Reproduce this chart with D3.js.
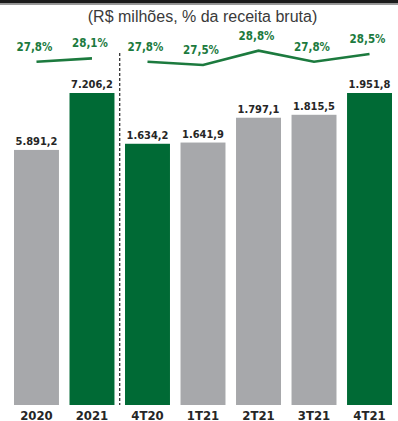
<!DOCTYPE html>
<html>
<head>
<meta charset="utf-8">
<script src="https://cdn.jsdelivr.net/npm/d3@7"></script>
<style>
  html, body { margin: 0; padding: 0; background: #fff; }
  svg { display: block; }
  .num { font-family: "DejaVu Sans Condensed", "DejaVu Sans", sans-serif; font-stretch: condensed; font-weight: bold; }
</style>
</head>
<body>
<svg id="chart" width="398" height="421"></svg>
<script>
// Annual figures (R$ milhões)
const yearCats = ["2020", "2021"];
const yearValues = [5891.2, 7206.2];
const yearPct = [27.8, 28.1];

// Quarterly figures (R$ milhões)
const quarterCats = ["4T20", "1T21", "2T21", "3T21", "4T21"];
const quarterValues = [1634.2, 1641.9, 1797.1, 1815.5, 1951.8];
const quarterPct = [27.8, 27.5, 28.8, 27.8, 28.5];

// Highlighted periods use the green fill
const highlighted = ["2021", "4T20", "4T21"];

const title = "(R$ milhões, % da receita bruta)";

const W = 398, H = 421;
const GREEN = "#006a35", GREY = "#a7a8ab", LINE = "#1c7a3e", TEXT = "#262626";

const fmt = v => v.toLocaleString("pt-BR", { minimumFractionDigits: 1, maximumFractionDigits: 1 });
const fmtPct = v => v.toLocaleString("pt-BR", { minimumFractionDigits: 1, maximumFractionDigits: 1 }) + "%";

const svg = d3.select("#chart");

// top band
svg.append("rect").attr("x", 0).attr("y", 0).attr("width", W).attr("height", 3.5).attr("fill", "#1b1b1b");
svg.append("rect").attr("x", 0).attr("y", 3.5).attr("width", W).attr("height", 1.5).attr("fill", "#9a9a9a");

svg.append("text")
  .attr("x", 202.5).attr("y", 21.5)
  .attr("text-anchor", "middle")
  .attr("font-family", "'Liberation Sans', Arial, sans-serif")
  .attr("font-size", 16)
  .attr("fill", "#3a3a3a")
  .text(title);

const allCats = yearCats.concat(quarterCats);
const x = d3.scaleBand().domain(allCats).range([14, 392]).paddingInner(0.19).paddingOuter(0);

const baseY = 405, topY = 93;
const yYear = d3.scaleLinear().domain([0, d3.max(yearValues)]).range([baseY, topY]);
const yQuarter = d3.scaleLinear().domain([0, d3.max(quarterValues)]).range([baseY, topY]);
const yPct = d3.scaleLinear().domain([27, 29]).range([70.5, 48.5]);

const groups = [
  { cats: yearCats, values: yearValues, pct: yearPct, y: yYear },
  { cats: quarterCats, values: quarterValues, pct: quarterPct, y: yQuarter }
];

groups.forEach(g => {
  const data = g.cats.map((c, i) => ({ cat: c, value: g.values[i], pct: g.pct[i] }));

  svg.append("g").selectAll("rect").data(data).join("rect")
    .attr("x", d => x(d.cat))
    .attr("y", d => g.y(d.value))
    .attr("width", x.bandwidth())
    .attr("height", d => baseY - g.y(d.value))
    .attr("fill", d => highlighted.includes(d.cat) ? GREEN : GREY);

  svg.append("g").selectAll("text").data(data).join("text")
    .attr("class", "num")
    .attr("x", d => x(d.cat) + x.bandwidth() / 2)
    .attr("y", d => g.y(d.value) - 5)
    .attr("text-anchor", "middle")
    .attr("font-size", 11)
    .attr("fill", TEXT)
    .text(d => fmt(d.value));

  const line = d3.line()
    .x(d => x(d.cat) + x.bandwidth() / 2)
    .y(d => yPct(d.pct));
  svg.append("path").datum(data)
    .attr("d", line)
    .attr("fill", "none")
    .attr("stroke", LINE)
    .attr("stroke-width", 2.6)
    .attr("stroke-linejoin", "miter");

  svg.append("g").selectAll("text").data(data).join("text")
    .attr("class", "num")
    .attr("x", d => x(d.cat) + x.bandwidth() / 2 - 2)
    .attr("y", d => yPct(d.pct) - 11)
    .attr("text-anchor", "middle")
    .attr("font-size", 11.5)
    .attr("fill", LINE)
    .text(d => fmtPct(d.pct));
});

// separator between annual and quarterly panels
const sepX = (x("2021") + x.bandwidth() + x("4T20")) / 2;
svg.append("line")
  .attr("x1", sepX).attr("x2", sepX)
  .attr("y1", 53).attr("y2", baseY)
  .attr("stroke", "#111").attr("stroke-width", 1.1)
  .attr("stroke-dasharray", "3,2");

// category axis
const axis = svg.append("g")
  .attr("transform", `translate(0,${baseY})`)
  .call(d3.axisBottom(x).tickSize(0).tickPadding(14.5));
axis.select(".domain").remove();
axis.selectAll("text")
  .attr("class", "num")
  .attr("dy", null)
  .attr("font-size", 13)
  .attr("fill", TEXT);
</script>
</body>
</html>
